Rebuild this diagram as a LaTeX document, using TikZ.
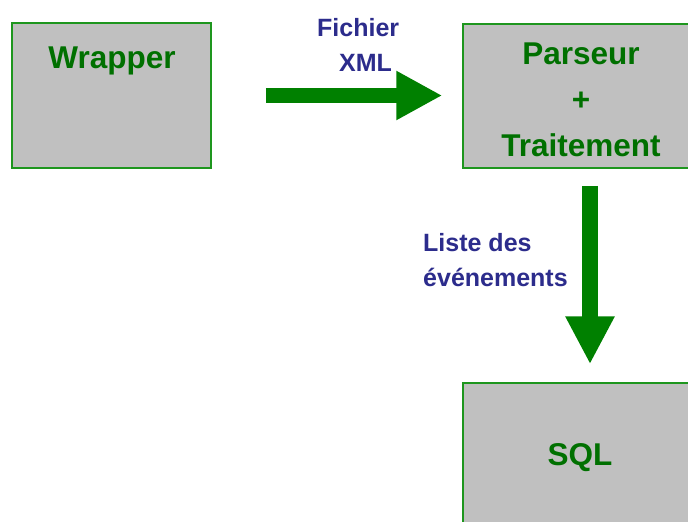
\documentclass[tikz,border=0pt]{standalone}
\usepackage{fontspec}
\setmainfont{Liberation Sans}
\usetikzlibrary{arrows.meta}
\definecolor{boxfill}{RGB}{192,192,192}
\definecolor{boxline}{RGB}{30,150,30}
\definecolor{greentext}{RGB}{0,112,0}
\definecolor{arrowgreen}{RGB}{0,128,0}
\definecolor{bluetext}{RGB}{44,44,140}
\begin{document}
\begin{tikzpicture}[x=1pt,y=-1pt,
  boxstyle/.style={draw=boxline, line width=1.5pt, fill=boxfill, inner sep=0pt},
  boxtext/.style={text=greentext, font=\bfseries\fontsize{31.5}{46}\selectfont, inner sep=0pt, align=center},
  labeltext/.style={text=bluetext, font=\bfseries\fontsize{25}{35}\selectfont, inner sep=0pt, align=left},
  bigarrow/.style={draw=arrowgreen, arrowgreen}
]
\useasboundingbox (0,0) rectangle (688,522);
\clip (0,0) rectangle (688,522);
\fill[white] (0,0) rectangle (688,522);

\node[boxstyle, minimum width=199pt, minimum height=145pt] (wrap) at (111.5,95.5) {};
\node[boxstyle, minimum width=236pt, minimum height=144pt] (parse) at (581,96) {};
\node[boxstyle, minimum width=236pt, minimum height=145pt] (sql) at (581,455.5) {};

\node[boxtext, anchor=base] (wraptext) at (112,68) {Wrapper};
\node[boxtext, anchor=center] (parsetext) at (581,99.7) {Parseur\\+\\Traitement};
\node[boxtext, anchor=base] (sqltext) at (580,465) {SQL};

\node[labeltext, anchor=north west] (xmllabel) at (317,18) {Fichier\\\hspace*{22pt}XML};
\node[labeltext, anchor=north west] (evlabel) at (423,233) {Liste des\\événements};

\draw[bigarrow, line width=15pt, -{Triangle[length=46pt,width=46pt]},
  shorten <=54pt, shorten >=20pt] (wrap.east) -- (wrap.east -| parse.west);
\coordinate (vtop) at ([xshift=9pt]parse.south);
\coordinate (vbot) at ([xshift=9pt]sql.north);
\draw[bigarrow, line width=16pt, -{Triangle[length=48pt,width=46pt]},
  shorten <=17pt, shorten >=18pt] (vtop) -- (vbot);
\end{tikzpicture}
\end{document}
